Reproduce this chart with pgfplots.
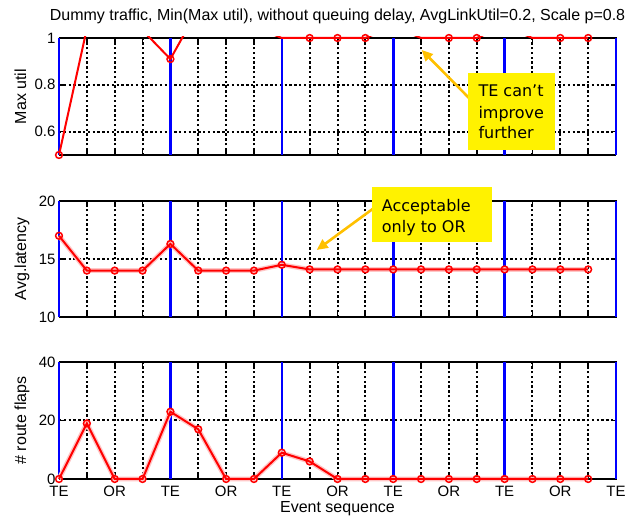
\documentclass[border=0pt]{standalone}
\usepackage{pgfplots}
\pgfplotsset{compat=1.18}
\usepackage{pgfplotstable}
\usepackage{fontspec}
\setmainfont{Liberation Sans}
\newfontfamily\annfont{DejaVu Sans}
\usetikzlibrary{arrows.meta}
\definecolor{arrowc}{RGB}{255,192,0}

\pgfplotstableread{
x y
0 0.5
1 1.04
2 1.12
3 1.033
4 0.91
5 1.124
6 1.12
7 1.05
8 1.0
9 1.0
10 1.0
11 1.0
12 1.05
13 1.0
14 1.0
15 1.0
16 1.05
17 1.0
18 1.0
19 1.0
}\utildata

\pgfplotstableread{
x y
0 17.0
1 14.0
2 14.0
3 14.0
4 16.3
5 14.0
6 14.0
7 14.0
8 14.5
9 14.1
10 14.1
11 14.1
12 14.1
13 14.1
14 14.1
15 14.1
16 14.1
17 14.1
18 14.1
19 14.1
}\latdata

\pgfplotstableread{
x y
0 0
1 19
2 0
3 0
4 23
5 17
6 0
7 0
8 9
9 6
10 0
11 0
12 0
13 0
14 0
15 0
16 0
17 0
18 0
19 0
}\flapdata

\pgfplotsset{
  panel/.style={
    scale only axis, width=557pt, anchor=south west,
    xmin=0, xmax=20, xtick={0,1,2,3,5,6,7,9,10,11,13,14,15,17,18,19,20},
    separate axis lines,
    x axis line style={black, line width=1.9pt},
    y axis line style={blue, line width=2.6pt},
    grid=major,
    major grid style={black, line width=2pt, dash pattern=on 2.4pt off 2.4pt},
    tick style={black, line width=1.8pt},
    major tick length=5pt,
    extra x ticks={4,8,12,16},
    extra x tick labels={},
    extra x tick style={grid=major, major grid style={blue, line width=2.6pt, solid}, major tick length=0pt},
    ticklabel style={font=\fontsize{15}{18}\selectfont},
    /pgf/number format/assume math mode=true,
    label style={font=\fontsize{16}{19}\selectfont},
    ylabel style={at={(axis description cs:-0.0592,0.5)}, anchor=base},
    xticklabels={},
    clip=false,
  },
  redline/.style={red, line width=2pt, mark=o, mark size=3.4pt, mark options={solid, line width=1.5pt}},
  halo/.style={red!22, line width=4.8pt, forget plot},
}

\begin{document}
\begin{tikzpicture}
\path[use as bounding box] (0,0) rectangle (635pt,519pt);

\begin{axis}[panel, at={(59pt,364pt)}, height=117pt,
  ymin=0.5, ymax=1, ytick={0.6,0.8,1}, ylabel={Max util},
  title={Dummy traffic, Min(Max util), without queuing delay, AvgLinkUtil=0.2, Scale p=0.8},
  title style={font=\fontsize{16}{19}\selectfont, at={(axis description cs:0.5,1)}, anchor=base, yshift=11.5pt}]
\begin{scope}
\clip (axis cs:0,0.5) rectangle ([yshift=1.8pt]axis cs:20,1);
\addplot[red, line width=2pt] table {\utildata};
\end{scope}
\addplot[redline, only marks, mark indices={1,5,10,11,12,15,16,19,20}] table {\utildata};
\end{axis}

\begin{axis}[panel, at={(59pt,202pt)}, height=116pt,
  ymin=10, ymax=20, ytick={10,15,20}, ylabel={Avg.latency}]
\addplot[halo] table {\latdata};
\addplot[redline] table {\latdata};
\end{axis}

\begin{axis}[panel, at={(59pt,40pt)}, height=117pt,
  ymin=0, ymax=40, ytick={0,20,40}, ylabel={\# route flaps},
  xlabel={Event sequence},
  xlabel style={at={(axis description cs:0.5,-0.29)}, anchor=base},
  xticklabels={TE,,OR,,,OR,,,OR,,,OR,,,OR,,TE},
  extra x tick labels={TE,TE,TE,TE},
  xticklabel style={anchor=base, yshift=-18pt}]
\addplot[halo] table {\flapdata};
\addplot[redline] table {\flapdata};
\end{axis}

% annotations
\draw[arrowc, line width=2.6pt, -{Triangle[length=11pt, width=10pt]}] (470pt,420pt) -- (421.7pt,469pt);
\fill[yellow] (468pt,369pt) rectangle (555pt,446pt);
\node[anchor=base west, inner sep=0pt, font=\annfont\fontsize{16}{19}\selectfont] at (478.3pt,422.3pt) {TE can’t};
\node[anchor=base west, inner sep=0pt, font=\annfont\fontsize{16}{19}\selectfont] at (478.3pt,400.7pt) {improve};
\node[anchor=base west, inner sep=0pt, font=\annfont\fontsize{16}{19}\selectfont] at (478.3pt,380.7pt) {further};

\draw[arrowc, line width=2.6pt, -{Triangle[length=11pt, width=10pt]}] (374pt,311pt) -- (316.7pt,269pt);
\fill[yellow] (372pt,277pt) rectangle (492pt,332pt);
\node[anchor=base west, inner sep=0pt, font=\annfont\fontsize{16}{19}\selectfont] at (381.7pt,307.3pt) {Acceptable};
\node[anchor=base west, inner sep=0pt, font=\annfont\fontsize{16}{19}\selectfont] at (381.7pt,286.7pt) {only to OR};
\end{tikzpicture}
\end{document}
